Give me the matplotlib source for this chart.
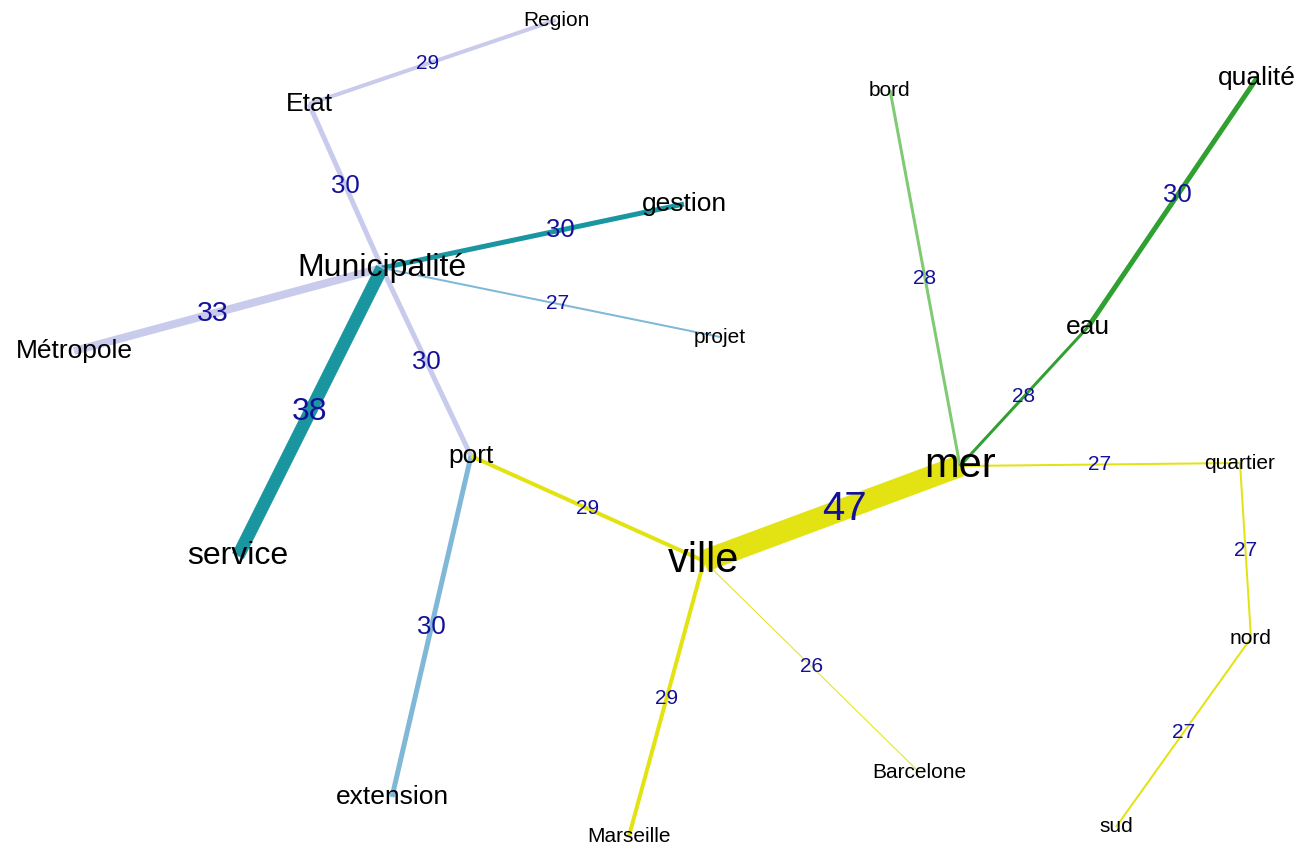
import matplotlib
matplotlib.use('Agg')
import matplotlib.pyplot as plt

# Mots (noeuds) et positions du graphe
mots = ["Region", "Etat", "Municipalité", "gestion", "projet", "Métropole",
        "service", "port", "extension", "ville", "Marseille", "Barcelone",
        "mer", "bord", "eau", "qualité", "quartier", "nord", "sud"]
pos_x = [556, 309, 382, 684, 720, 74, 238, 471, 392, 704, 629, 919,
         960, 890, 1088, 1257, 1240, 1251, 1116]
pos_y = [20, 104, 268, 204, 337, 351, 556, 456, 797, 561, 836, 772,
         466, 90, 327, 78, 463, 638, 827]
taille_mot = [15, 19, 23, 19, 15, 19, 23, 19, 19, 30, 15, 15,
              30, 15, 19, 19, 15, 15, 15]

# Arêtes : source, cible, cooccurrence, communauté
src = ["Region", "Etat", "Municipalité", "Municipalité", "Municipalité",
       "Municipalité", "Municipalité", "port", "port", "ville", "ville",
       "ville", "mer", "quartier", "nord", "mer", "mer", "eau"]
dst = ["Etat", "Municipalité", "Métropole", "port", "gestion", "service",
       "projet", "extension", "ville", "mer", "Marseille", "Barcelone",
       "quartier", "nord", "sud", "bord", "eau", "qualité"]
poids = [29, 30, 33, 30, 30, 38, 27, 30, 29, 47, 29, 26, 27, 27, 27, 28, 28, 30]
groupe = ["lav", "lav", "lav", "lav", "teal", "teal", "bleu", "bleu", "jaune",
          "jaune", "jaune", "jaune", "jaune", "jaune", "jaune", "vclair",
          "vfonce", "vfonce"]

# position de l'étiquette le long de l'arête (0 = source, 1 = cible)
t_label = [0.52, 0.5, 0.55, 0.5, 0.59, 0.5, 0.52, 0.5, 0.5, 0.55, 0.5, 0.5,
           0.5, 0.5, 0.5, 0.5, 0.5, 0.53]

couleurs = {"lav": "#c9cbec", "teal": "#1a96a0", "bleu": "#80b8d7",
            "jaune": "#e3e314", "vclair": "#80ca74", "vfonce": "#30a030"}

plt.rcParams['font.family'] = ['Liberation Sans', 'DejaVu Sans']

fig = plt.figure(figsize=(12.99, 8.49), dpi=100)
ax = fig.add_axes([0, 0, 1, 1])
ax.set_xlim(0, 1299)
ax.set_ylim(849, 0)
ax.axis("off")

idx = {m: i for i, m in enumerate(mots)}


def taille_label(w):
    if w < 30:
        return 15
    if w < 33:
        return 18.5
    if w < 38:
        return 20.5
    if w < 47:
        return 23
    return 29


for s, d, w, g, t in zip(src, dst, poids, groupe, t_label):
    x0, y0 = pos_x[idx[s]], pos_y[idx[s]]
    x1, y1 = pos_x[idx[d]], pos_y[idx[d]]
    lw = max(w - 25, 1) * 0.72
    ax.plot([x0, x1], [y0, y1], color=couleurs[g], lw=lw,
            solid_capstyle="butt", zorder=1)
    ax.text(x0 + t * (x1 - x0), y0 + t * (y1 - y0), str(w), color="#14109a",
            fontsize=taille_label(w), ha="center", va="center", zorder=3)

for m, x, y, t in zip(mots, pos_x, pos_y, taille_mot):
    ax.text(x, y, m, fontsize=t, color="black", ha="center", va="center",
            zorder=4)

plt.savefig("out.png", dpi=100)
